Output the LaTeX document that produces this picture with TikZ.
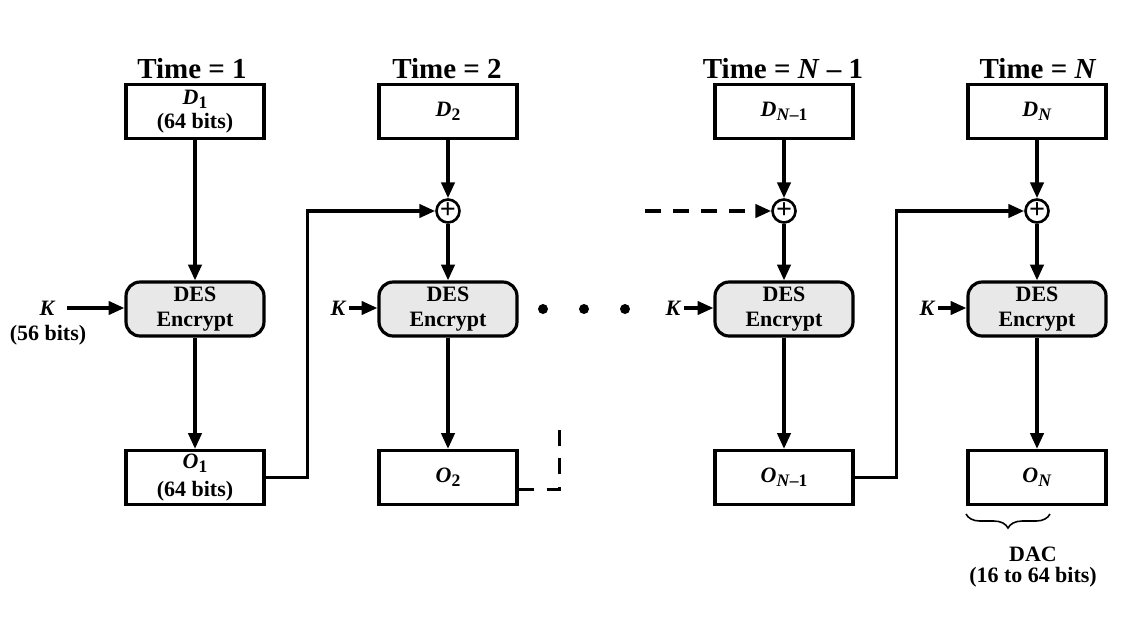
\documentclass[tikz,border=0pt]{standalone}
\usepackage{fontspec}
\setmainfont{Liberation Serif}
\usetikzlibrary{arrows.meta,decorations.pathreplacing,calc}

% indice abaissé, un peu plus grand que \textsubscript
\newcommand{\indice}[1]{\raisebox{-0.4ex}{\fontsize{10}{10}\selectfont #1}}

\begin{document}
\begin{tikzpicture}[x=0.02cm, y=-0.02cm, >={Triangle[length=9pt,width=7.5pt]},
  bloc/.style={draw, line width=1.8pt, minimum width=2.76cm, minimum height=1.08cm,
    inner sep=0pt, align=center, font=\bfseries\fontsize{12.5}{14}\selectfont},
  des/.style={bloc, rounded corners=8pt, fill=gray!18},
  xor/.style={draw, circle, line width=1.5pt, minimum size=0.46cm, inner sep=0pt,
    fill=white, font=\bfseries\fontsize{16}{16}\selectfont},
  lien/.style={line width=2pt, ->},
  titre/.style={font=\bfseries\fontsize{16.5}{18}\selectfont},
  cle/.style={inner sep=2pt, font=\bfseries\itshape\fontsize{12.5}{14}\selectfont}]

  \useasboundingbox (0,0) rectangle (1132,622);

  % ==========================================
  % COLONNE 1 : TEMPS = 1
  % ==========================================
  \node[titre] (t1) at (192,69) {Time = 1};
  \node[bloc] (d1) at (195,111.5) {\textit{D}\indice{1}\\(64 bits)};
  \node[des] (des1) at (195,309) {DES\\Encrypt};
  \node[bloc] (o1) at (195,477.5) {\textit{O}\indice{1}\\[2pt](64 bits)};

  % Clé K (56 bits)
  \node[cle] (k1) at (47,308) {K};
  \node[font=\bfseries\fontsize{12.5}{14}\selectfont, anchor=north] (b1) at (48,319) {(56 bits)};

  \draw[lien] (d1) -- (des1);
  \draw[lien] (des1) -- (o1);
  \draw[lien, shorten <=5pt] (k1.east) -- (k1.east -| des1.west);

  % ==========================================
  % COLONNE 2 : TEMPS = 2
  % ==========================================
  \node[titre] (t2) at (447,69) {Time = 2};
  \node[bloc] (d2) at (448,111.5) {\textit{D}\indice{2}};
  \node[xor] (xor2) at (448,211) {+};
  \node[des] (des2) at (448,309) {DES\\Encrypt};
  \node[bloc] (o2) at (448,477.5) {\textit{O}\indice{2}};
  \node[cle] (k2) at (338,308) {K};

  \draw[lien] (d2) -- (xor2);
  \draw[lien] (xor2) -- (des2);
  \draw[lien] (des2) -- (o2);
  \draw[lien] (k2.east) -- (k2.east -| des2.west);

  % Retour de O1 vers le XOR
  \draw[lien] (o1.east) -- ++(42,0) |- (xor2.west);

  % Sortie O2 en pointillés
  \draw[line width=2pt, dash pattern=on 9pt off 7pt]
    ($(o2.east)+(0,12)$) -- ++(41,0) -- ++(0,-70);

  % Points de suspension
  \fill (543,309) circle (5);
  \fill (584,309) circle (5);
  \fill (625,309) circle (5);

  % ==========================================
  % COLONNE 3 : TEMPS = N-1
  % ==========================================
  \node[titre] (t3) at (783,69) {Time = \textit{N} – 1};
  \node[bloc] (d3) at (784,111.5) {\textit{D}\indice{\textit{N}–1}};
  \node[xor] (xor3) at (784,211) {+};
  \node[des] (des3) at (784,309) {DES\\Encrypt};
  \node[bloc] (o3) at (784,477.5) {\textit{O}\indice{\textit{N}–1}};
  \node[cle] (k3) at (673,308) {K};

  \coordinate (p3) at (645,211);

  \draw[lien] (d3) -- (xor3);
  \draw[lien] (xor3) -- (des3);
  \draw[lien] (des3) -- (o3);
  \draw[lien] (k3.east) -- (k3.east -| des3.west);
  \draw[lien, dash pattern=on 9pt off 7pt] (p3) -- (xor3.west);

  % ==========================================
  % COLONNE 4 : TEMPS = N
  % ==========================================
  \node[titre] (t4) at (1038,69) {Time = \textit{N}};
  \node[bloc] (d4) at (1037,111.5) {\textit{D}\indice{\textit{N}}};
  \node[xor] (xor4) at (1037,211) {+};
  \node[des] (des4) at (1037,309) {DES\\Encrypt};
  \node[bloc] (o4) at (1037,477.5) {\textit{O}\indice{\textit{N}}};
  \node[cle] (k4) at (927,308) {K};

  \draw[lien] (d4) -- (xor4);
  \draw[lien] (xor4) -- (des4);
  \draw[lien] (des4) -- (o4);
  \draw[lien] (k4.east) -- (k4.east -| des4.west);

  % Retour de O(N-1) vers le XOR
  \draw[lien] (o3.east) -- ++(42,0) |- (xor4.west);

  % Accolade du DAC
  \draw[line width=0.9pt, decorate, decoration={brace, mirror, amplitude=8pt}]
    (966,514) -- (1050,514);
  \node[align=center, font=\bfseries\fontsize{12.5}{12}\selectfont] (dac) at (1033,567)
    {DAC\\(16 to 64 bits)};

\end{tikzpicture}
\end{document}
